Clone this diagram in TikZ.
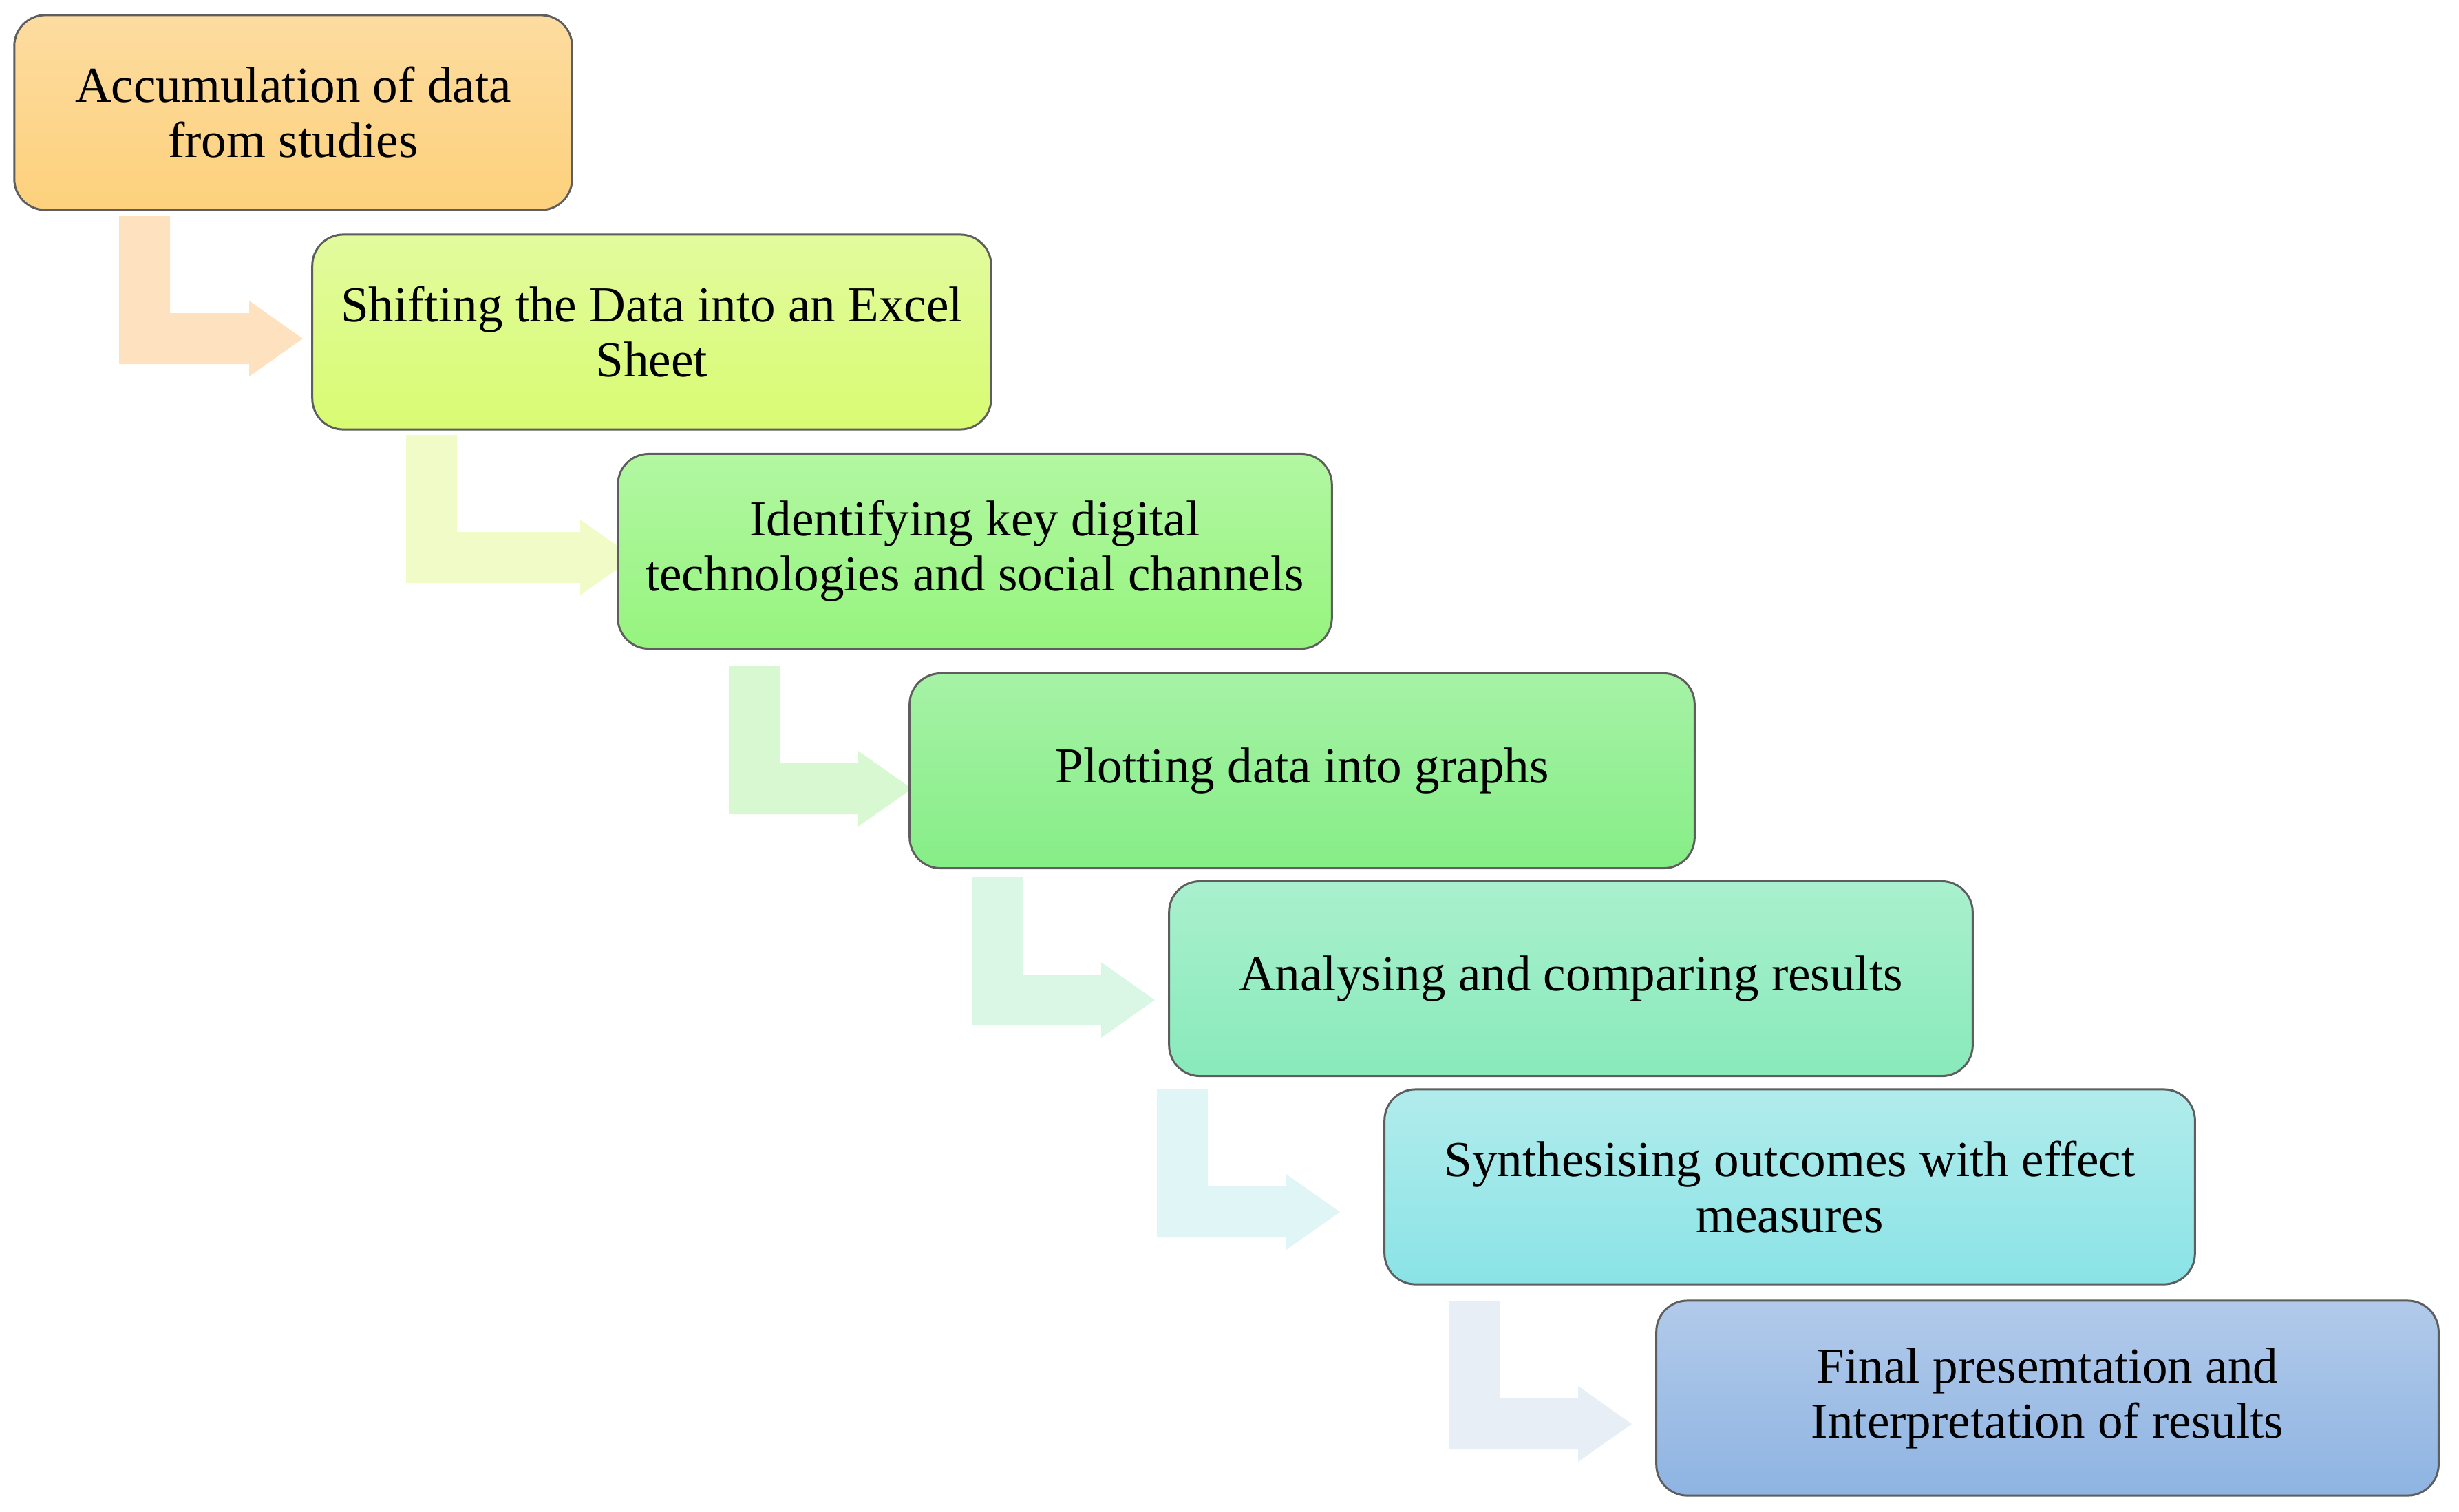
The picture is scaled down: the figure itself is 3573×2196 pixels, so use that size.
\documentclass[tikz,border=0pt]{standalone}
\usepackage{fontspec}
\setmainfont{Liberation Serif}
\usetikzlibrary{backgrounds}
\definecolor{b1t}{HTML}{FDDCA0}\definecolor{b1b}{HTML}{FDD17C}
\definecolor{b2t}{HTML}{E2FB9E}\definecolor{b2b}{HTML}{D8FB72}
\definecolor{b3t}{HTML}{B2F7A2}\definecolor{b3b}{HTML}{96F47E}
\definecolor{b4t}{HTML}{A6F2A6}\definecolor{b4b}{HTML}{86EE86}
\definecolor{b5t}{HTML}{AAF0CE}\definecolor{b5b}{HTML}{88EABA}
\definecolor{b6t}{HTML}{B2ECEC}\definecolor{b6b}{HTML}{8AE3E6}
\definecolor{b7t}{HTML}{B2CAEA}\definecolor{b7b}{HTML}{8EB4E2}
\definecolor{a1c}{HTML}{FEE1BE}
\definecolor{a2c}{HTML}{F0FBC8}
\definecolor{a3c}{HTML}{D8F8D2}
\definecolor{a4c}{HTML}{DAF7E6}
\definecolor{a5c}{HTML}{E0F6F6}
\definecolor{a6c}{HTML}{E8EEF6}
\definecolor{edge}{HTML}{5E5E5E}
% #1 colour, #2 stem left x, #3 stem top y, #4 head base x
\newcommand\bentarrow[4]{%
  \fill[#1] (#2,#3) -- (#2+74,#3) -- (#2+74,#3+141) -- (#4,#3+141)
    -- (#4,#3+123) -- (#4+78,#3+178) -- (#4,#3+233) -- (#4,#3+215)
    -- (#2,#3+215) -- cycle;}
\tikzset{
  stepbox/.style={draw=edge, line width=0.85pt, rounded corners=0.45cm,
    minimum height=2.83cm, inner sep=0pt, align=center,
    font=\fontsize{20.8}{22.8}\selectfont}
}
\begin{document}
\begin{tikzpicture}[x=0.01cm,y=-0.01cm]
\useasboundingbox (0,0) rectangle (3573,2196);
\node[stepbox, minimum width=8.10cm, top color=b1t, bottom color=b1b] (b1) at (426,163.5) {Accumulation of data\\from studies};
\node[stepbox, minimum width=9.86cm, top color=b2t, bottom color=b2b] (b2) at (947,482.5) {Shifting the Data into an Excel\\Sheet};
\node[stepbox, minimum width=10.37cm, top color=b3t, bottom color=b3b] (b3) at (1416.5,801) {Identifying key digital\\technologies and social channels};
\node[stepbox, minimum width=11.40cm, top color=b4t, bottom color=b4b] (b4) at (1892,1120) {\raisebox{-0.06cm}{Plotting data into graphs}};
\node[stepbox, minimum width=11.67cm, top color=b5t, bottom color=b5b] (b5) at (2282.5,1422) {\raisebox{-0.06cm}{Analysing and comparing results}};
\node[stepbox, minimum width=11.77cm, top color=b6t, bottom color=b6b] (b6) at (2600.5,1724.5) {Synthesising outcomes with effect\\measures};
\node[stepbox, minimum width=11.36cm, top color=b7t, bottom color=b7b] (b7) at (2975,2031.5) {Final presemtation and\\Interpretation of results};
\begin{scope}[on background layer]
\bentarrow{a1c}{173}{314}{362}
\bentarrow{a2c}{590}{632}{843}
\bentarrow{a3c}{1059}{968}{1247}
\bentarrow{a4c}{1412}{1275}{1600}
\bentarrow{a5c}{1681}{1583}{1869}
\bentarrow{a6c}{2105}{1891}{2293}
\end{scope}
\end{tikzpicture}
\end{document}
